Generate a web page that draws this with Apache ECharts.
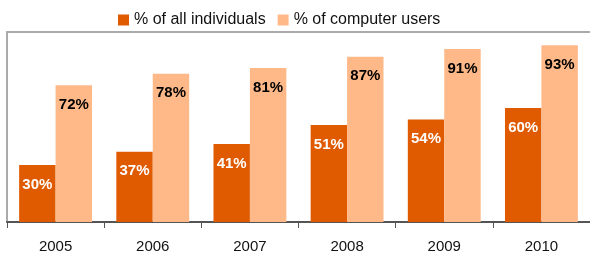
<!DOCTYPE html>
<html>
<head>
<meta charset="utf-8">
<script src="https://cdn.jsdelivr.net/npm/echarts@6/dist/echarts.min.js"></script>
<style>
html,body{margin:0;padding:0;background:#fff;}
#main{width:590px;height:253px;}
</style>
</head>
<body>
<div id="main"></div>
<script>
var years = ['2005', '2006', '2007', '2008', '2009', '2010'];
var allIndividuals = [30, 37, 41, 51, 54, 60];
var computerUsers = [72, 78, 81, 87, 91, 93];

var myChart = echarts.init(document.getElementById('main'));
var font = 'Liberation Sans, Arial, sans-serif';
option = {
    animation: false,
    textStyle: { fontFamily: font },
    legend: {
        top: 7,
        left: 113,
        itemWidth: 11,
        itemHeight: 11,
        itemGap: 12,
        icon: 'rect',
        textStyle: { fontSize: 16, color: '#111', fontFamily: font }
    },
    grid: { left: 7, right: 0, top: 32, bottom: 31, outerBoundsMode: 'none', containLabel: false },
    xAxis: [{
        type: 'category',
        data: years,
        axisLine: { lineStyle: { color: '#555', width: 2 } },
        axisTick: { show: true, length: 6, lineStyle: { color: '#555' } },
        axisLabel: { fontSize: 15, color: '#111', margin: 17, fontFamily: font }
    }, {
        type: 'category',
        position: 'top',
        data: years,
        axisLine: { lineStyle: { color: '#aaa', width: 2 } },
        axisTick: { show: false },
        axisLabel: { show: false }
    }],
    yAxis: {
        type: 'value',
        min: 0,
        max: 100,
        axisLine: { show: true, lineStyle: { color: '#aaa', width: 2 } },
        axisTick: { show: false },
        axisLabel: { show: false },
        splitLine: { show: false }
    },
    series: [{
        name: '% of all individuals',
        type: 'bar',
        data: allIndividuals,
        barGap: 0,
        barCategoryGap: '25%',
        itemStyle: { color: '#E05A00' },
        label: {
            show: true, position: 'insideTop', distance: 12,
            formatter: '{c}%', color: '#fff', fontWeight: 'bold', fontSize: 15, fontFamily: font
        }
    }, {
        name: '% of computer users',
        type: 'bar',
        data: computerUsers,
        barGap: 0,
        barCategoryGap: '25%',
        itemStyle: { color: '#FFB988' },
        label: {
            show: true, position: 'insideTop', distance: 12,
            formatter: '{c}%', color: '#000', fontWeight: 'bold', fontSize: 15, fontFamily: font
        }
    }]
};
myChart.setOption(option);
</script>
</body>
</html>
